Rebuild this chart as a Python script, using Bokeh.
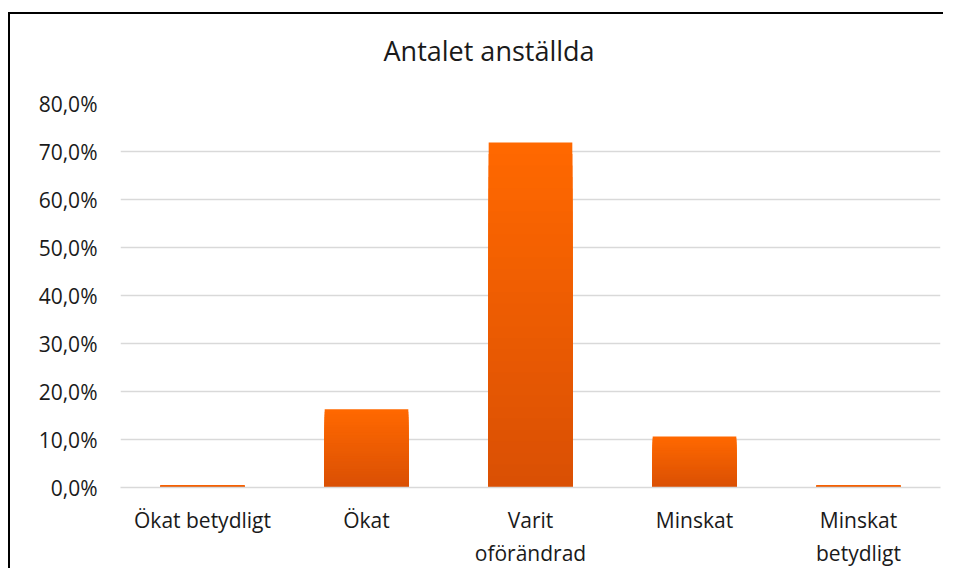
import numpy as np
from bokeh.plotting import figure
from bokeh.models import ColumnDataSource, FactorRange, SingleIntervalTicker, CustomJSTickFormatter, Range1d, Title
from bokeh.embed import file_html
from bokeh.resources import INLINE

categories = ["Ökat betydligt", "Ökat", "Varit\noförändrad", "Minskat", "Minskat\nbetydligt"]
values = [0.005, 0.163, 0.719, 0.106, 0.005]
title_text = "Antalet anställda"

FONT = "Open Sans"
TEXT = "#1a1a1a"
TOP_COLOR = (255, 104, 0)
BOTTOM_COLOR = (218, 80, 4)
N_STEPS = 30

# main bars (top colour)
source = ColumnDataSource(data=dict(cat=categories, val=values))

# vertical gradient overlay derived from the same values
g_cat, g_top, g_col = [], [], []
for k in range(1, N_STEPS):
    t = k / (N_STEPS - 1)
    c = tuple(int(round(a + (b - a) * t)) for a, b in zip(TOP_COLOR, BOTTOM_COLOR))
    frac = 1 - k / N_STEPS
    for cat, v in zip(categories, values):
        g_cat.append(cat)
        g_top.append(v * frac)
        g_col.append("#%02x%02x%02x" % c)
grad = ColumnDataSource(data=dict(cat=g_cat, top=g_top, col=g_col))

p = figure(
    x_range=FactorRange(*categories, range_padding=0),
    y_range=Range1d(0, 0.8),
    width=935, height=556,
    output_backend="svg", toolbar_location=None,
    min_border_left=110, min_border_right=5, min_border_top=89, min_border_bottom=80,
)
p.styles = {"box-shadow": "-2px -2px 0 0 black", "margin-top": "14px", "margin-left": "10px"}
p.outline_line_color = None

p.vbar(x="cat", top="val", width=0.51, source=source, fill_color="#FF6800", line_color=None)
p.vbar(x="cat", top="top", width=0.51, source=grad, fill_color="col", line_color=None)

# blank spacer between the frame and the title
p.add_layout(Title(text=" ", text_font_size="1px", standoff=27), "above")

p.title.text = title_text
p.title.align = "left"
p.title.offset = 263
p.title.text_font = FONT
p.title.text_font_size = "27px"
p.title.text_font_style = "normal"
p.title.text_color = TEXT
p.title.standoff = 10

p.yaxis.ticker = SingleIntervalTicker(interval=0.1)
p.yaxis.formatter = CustomJSTickFormatter(code="return (tick*100).toFixed(1).replace('.', ',') + '%';")
p.ygrid.ticker = SingleIntervalTicker(interval=0.1)
p.ygrid.grid_line_color = "#D9D9D9"
p.ygrid.grid_line_width = 1.5
p.xgrid.grid_line_color = None

for ax in (p.xaxis[0], p.yaxis[0]):
    ax.major_tick_line_color = None
    ax.minor_tick_line_color = None
    ax.major_label_text_font = FONT
    ax.major_label_text_font_size = "21px"
    ax.major_label_text_color = TEXT
p.yaxis.axis_line_color = None
p.xaxis.axis_line_color = "#D9D9D9"
p.xaxis.axis_line_width = 1.5
p.yaxis.major_label_standoff = 17
p.xaxis.major_label_standoff = 12

open("out.html", "w").write(file_html(p, INLINE))
